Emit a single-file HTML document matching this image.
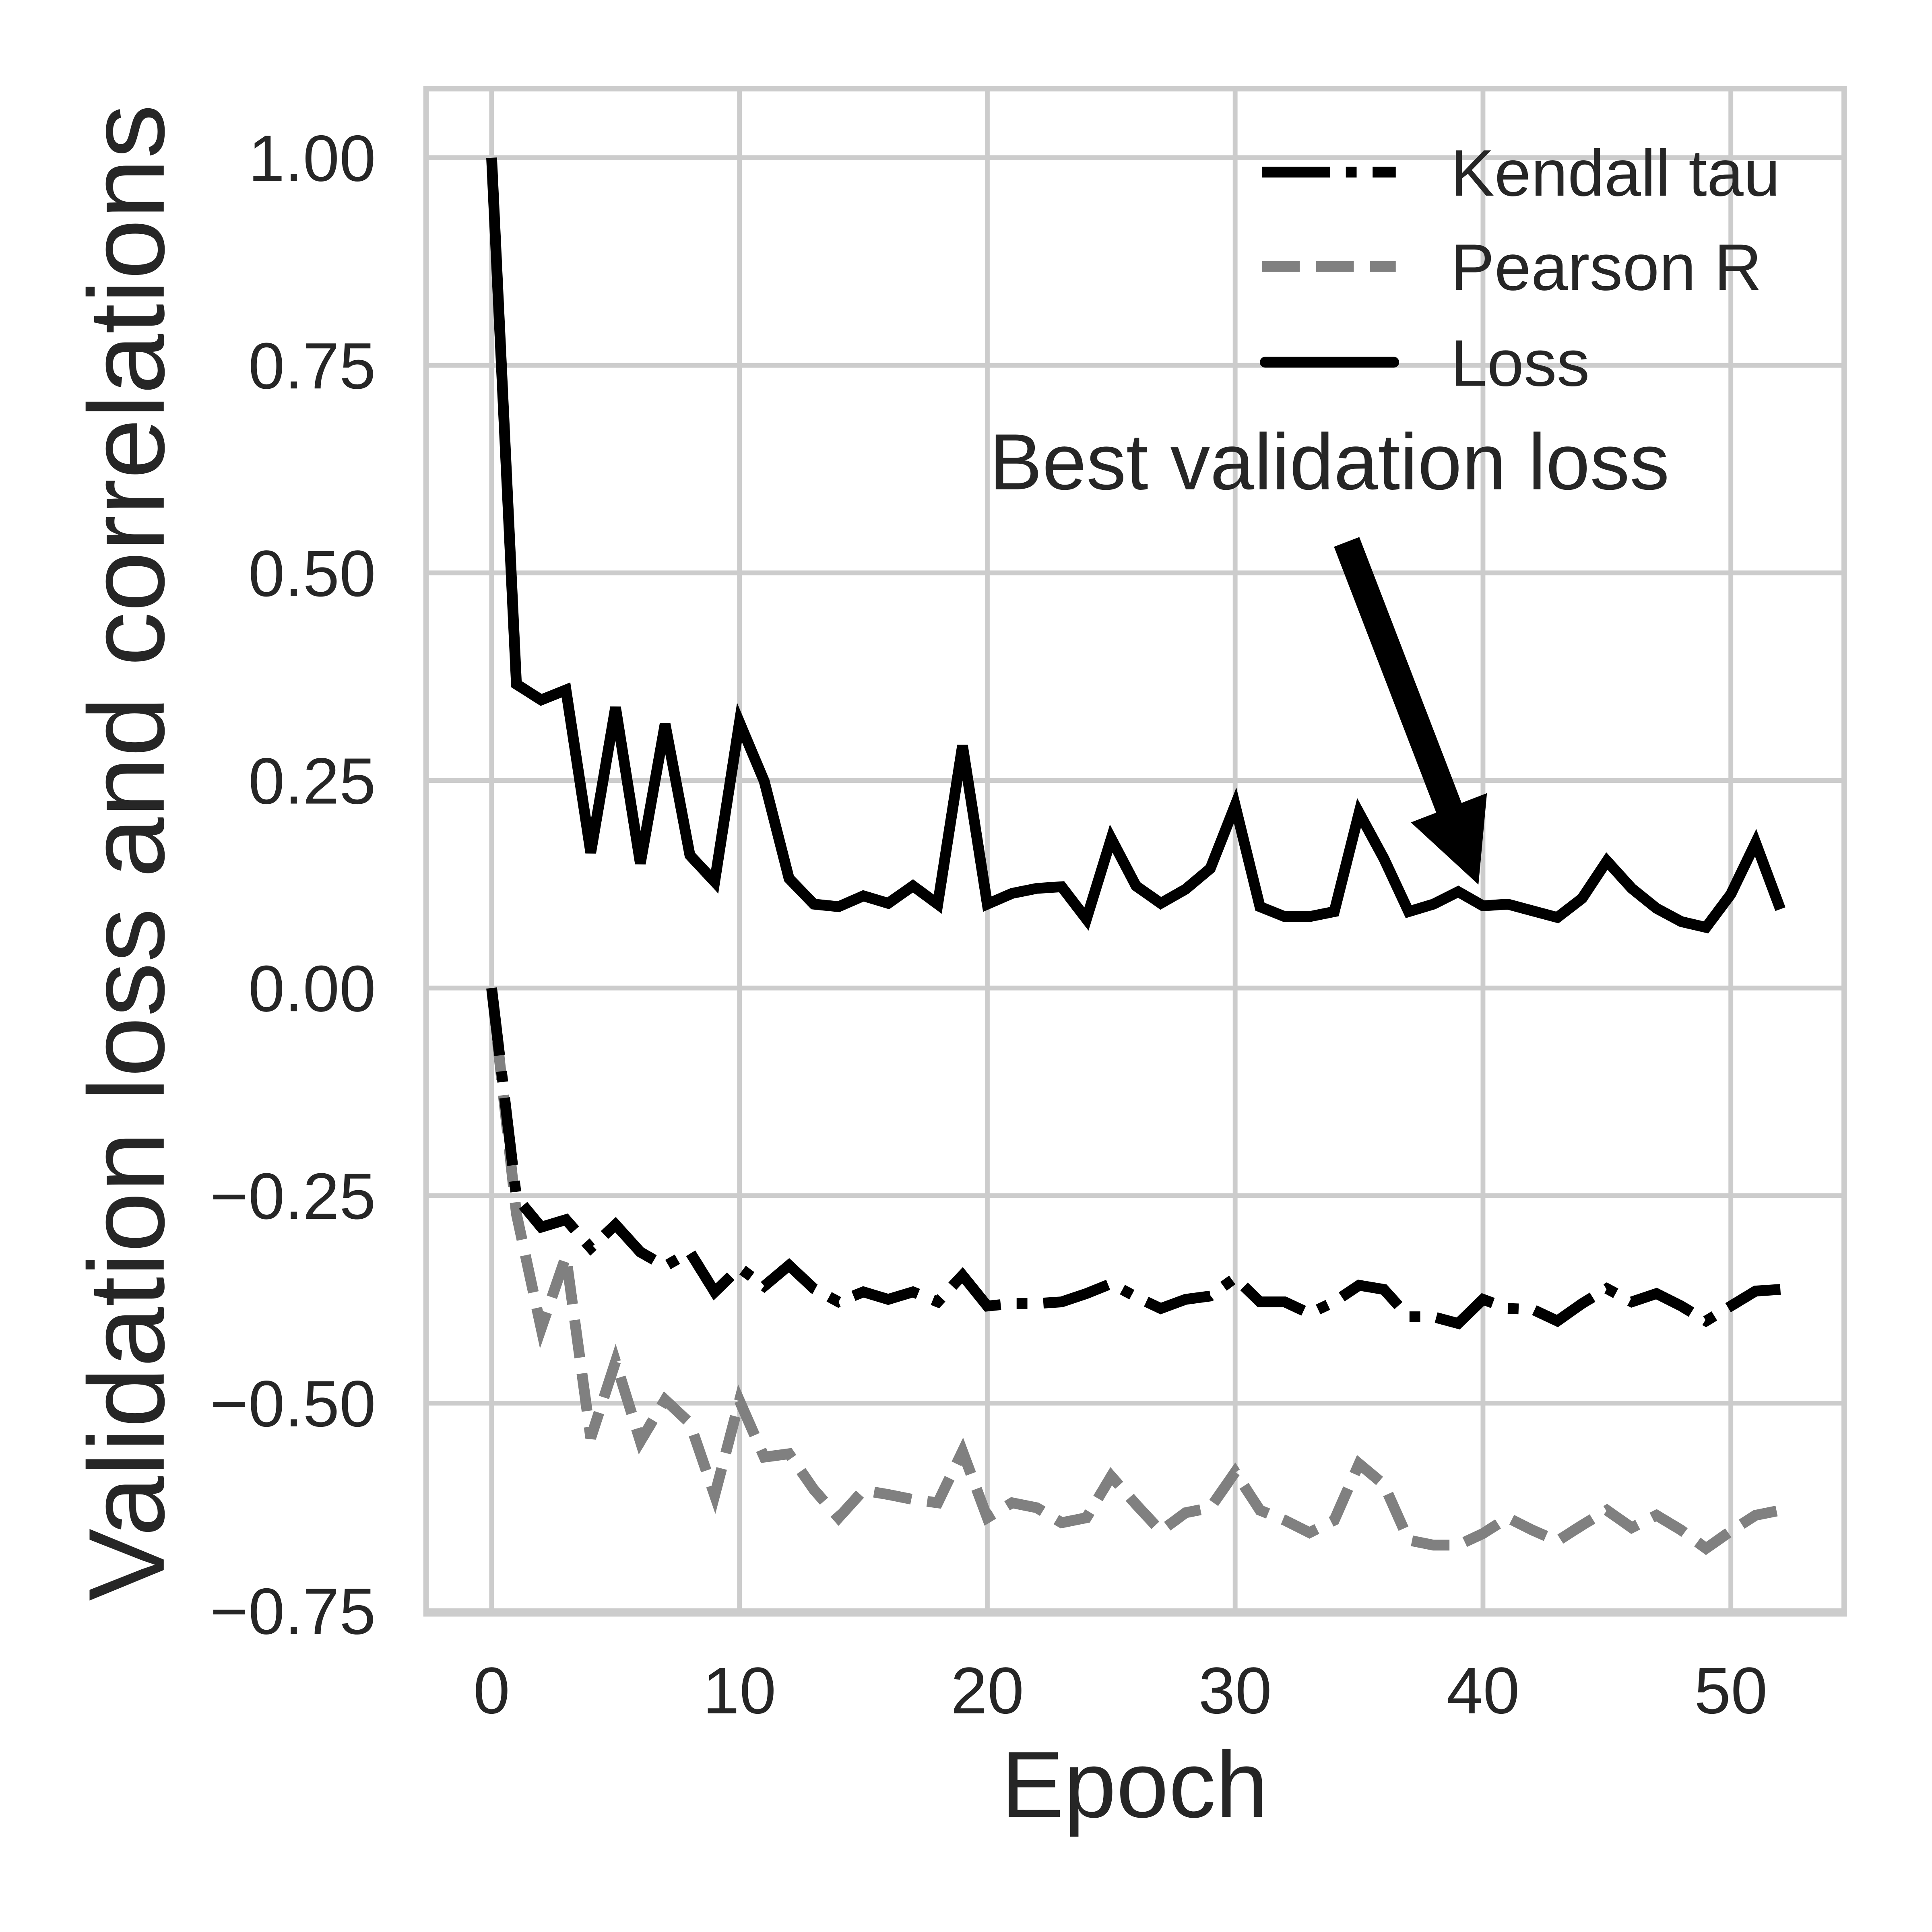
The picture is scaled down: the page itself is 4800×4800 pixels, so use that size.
<!DOCTYPE html>
<html><head><meta charset="utf-8"><style>
html,body{margin:0;padding:0;background:#fff;}
svg{display:block;font-family:"Liberation Sans",Arial,sans-serif;}
</style></head><body>
<svg id="chart" width="4800" height="4800" viewBox="0 0 4800 4800" xmlns="http://www.w3.org/2000/svg">
<rect x="0" y="0" width="4800" height="4800" fill="#fff"/>
<g transform="scale(0.9922)">
<g id="grid"></g>
<rect x="1067" y="222" width="3551" height="3819" fill="none" stroke="#cccccc" stroke-width="14"/>
<g id="series"></g>
<g id="ticks" fill="#262626"></g>
<text x="2841" y="4550" font-size="236" text-anchor="middle" fill="#262626">Epoch</text>
<text transform="translate(410,2135) rotate(-90)" x="0" y="0" font-size="270" text-anchor="middle" textLength="3748" lengthAdjust="spacingAndGlyphs" fill="#262626">Validation loss and correlations</text>
<g>
<line x1="3160" y1="431" x2="3495" y2="431" stroke="#000" stroke-width="27" stroke-dasharray="170,40,27,40"/>
<text x="3632" y="490" font-size="165" fill="#262626">Kendall tau</text>
<line x1="3160" y1="667" x2="3495" y2="667" stroke="#808080" stroke-width="27" stroke-dasharray="95,40"/>
<text x="3632" y="726" font-size="165" fill="#262626">Pearson R</text>
<line x1="3168" y1="907" x2="3490" y2="907" stroke="#000" stroke-width="27" stroke-linecap="round"/>
<text x="3632" y="966" font-size="165" fill="#262626">Loss</text>
</g>
<text x="2477" y="1225" font-size="199" fill="#262626">Best validation loss</text>
<polygon id="arrow" fill="#000"/>
</g>
</svg>
<script>
const epochs = Array.from({length:53},(_, i)=>i);
const lossValues = [1.00,0.366,0.347,0.359,0.163,0.338,0.150,0.318,0.160,0.128,0.320,0.249,0.132,0.101,0.098,0.111,0.102,0.123,0.101,0.292,0.101,0.114,0.120,0.122,0.083,0.180,0.123,0.102,0.119,0.144,0.220,0.098,0.086,0.086,0.092,0.211,0.156,0.092,0.101,0.116,0.099,0.101,0.093,0.085,0.108,0.153,0.120,0.096,0.080,0.073,0.113,0.175,0.095];
const kendallValues = [0,-0.252,-0.288,-0.279,-0.313,-0.285,-0.318,-0.335,-0.318,-0.366,-0.337,-0.359,-0.334,-0.362,-0.378,-0.366,-0.375,-0.366,-0.378,-0.346,-0.383,-0.380,-0.380,-0.378,-0.368,-0.356,-0.372,-0.386,-0.375,-0.371,-0.349,-0.378,-0.378,-0.392,-0.378,-0.358,-0.363,-0.396,-0.396,-0.404,-0.375,-0.386,-0.387,-0.401,-0.380,-0.362,-0.378,-0.368,-0.383,-0.401,-0.383,-0.365,-0.363];
const pearsonValues = [0,-0.272,-0.41,-0.323,-0.542,-0.45,-0.546,-0.496,-0.524,-0.611,-0.497,-0.565,-0.561,-0.604,-0.638,-0.605,-0.610,-0.616,-0.620,-0.558,-0.638,-0.620,-0.626,-0.644,-0.638,-0.588,-0.622,-0.654,-0.632,-0.626,-0.583,-0.629,-0.641,-0.656,-0.641,-0.573,-0.598,-0.665,-0.671,-0.671,-0.657,-0.638,-0.653,-0.666,-0.647,-0.629,-0.650,-0.635,-0.653,-0.675,-0.654,-0.635,-0.629];
const xTicks = [0,10,20,30,40,50];
const yTicks = [1.00,0.75,0.50,0.25,0.00,-0.25,-0.50,-0.75];
const yTickLabels = ["1.00","0.75","0.50","0.25","0.00","\u22120.25","\u22120.50","\u22120.75"];

const NS="http://www.w3.org/2000/svg";
const xs = v => 1231 + v*62.06;
const ys = v => 2474 - v*2079;
function mk(tag, attrs, parent){const e=document.createElementNS(NS,tag);for(const k in attrs)e.setAttribute(k,attrs[k]);parent.appendChild(e);return e;}
const grid=document.getElementById('grid'), ticks=document.getElementById('ticks'), series=document.getElementById('series');
xTicks.forEach(t=>{
  const l=mk('line',{x1:xs(t),x2:xs(t),y1:222,y2:4041,stroke:'#cccccc','stroke-width':12},grid);
  
  
  const tx=mk('text',{x:xs(t),y:4290,'font-size':165,'text-anchor':'middle'},ticks);
  tx.textContent=String(t);
  
  
});
yTicks.forEach((t,i)=>{
  const l=mk('line',{x1:1067,x2:4618,y1:ys(t),y2:ys(t),stroke:'#cccccc','stroke-width':12},grid);
  
  
  const tx=mk('text',{x:941,y:ys(t)+58,'font-size':164,'text-anchor':'end'},ticks);
  tx.textContent=yTickLabels[i];
  
  
});
function pathFor(vals){return vals.map((v,i)=>(i?'L':'M')+xs(epochs[i]).toFixed(1)+','+ys(v).toFixed(1)).join(' ');}
const pe=mk('path',{d:pathFor(pearsonValues),fill:'none',stroke:'#808080','stroke-width':27,'stroke-dasharray':'95,40'},series);


const ke=mk('path',{d:pathFor(kendallValues),fill:'none',stroke:'#000','stroke-width':27,'stroke-dasharray':'170,40,27,40'},series);


const lo=mk('path',{d:pathFor(lossValues),fill:'none',stroke:'#000','stroke-width':27,'stroke-linejoin':'miter'},series);


(function(){
  const tx=3372,ty=1357,hx=3702,hy=2215;
  const dx=hx-tx,dy=hy-ty,L=Math.hypot(dx,dy),ux=dx/L,uy=dy/L,nx=-uy,ny=ux;
  const sw=34,hl=206,hw=102;
  const bx=hx-ux*hl,by=hy-uy*hl;
  const p=[[tx+nx*sw,ty+ny*sw],[bx+nx*sw,by+ny*sw],[bx+nx*hw,by+ny*hw],[hx,hy],[bx-nx*hw,by-ny*hw],[bx-nx*sw,by-ny*sw],[tx-nx*sw,ty-ny*sw]];
  document.getElementById('arrow').setAttribute('points',p.map(q=>q[0].toFixed(1)+','+q[1].toFixed(1)).join(' '));
})();
</script>
</body></html>
